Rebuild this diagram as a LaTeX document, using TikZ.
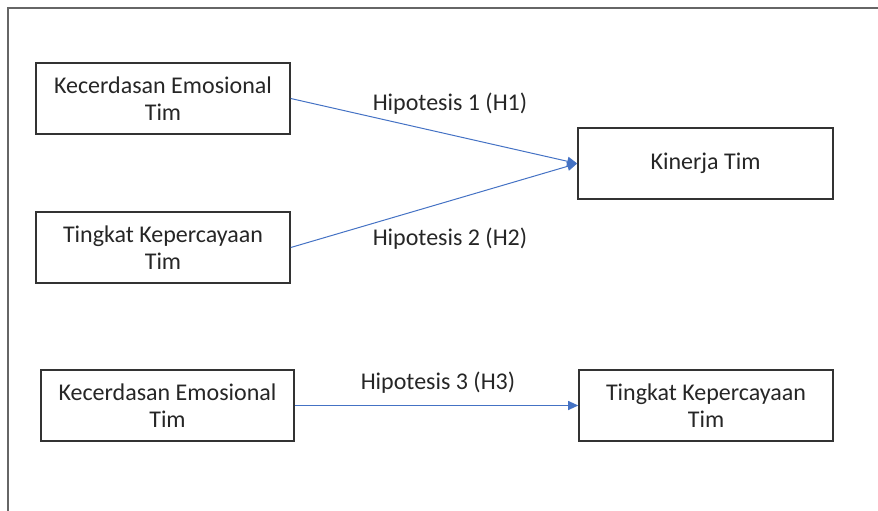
\documentclass[tikz,border=0pt]{standalone}
\usepackage{fontspec}
\setmainfont{Carlito}
\usetikzlibrary{arrows.meta}
\definecolor{arrowblue}{HTML}{4472C4}
\definecolor{txt}{HTML}{262626}
\definecolor{boxline}{HTML}{333333}
\begin{document}
\begin{tikzpicture}[x=1pt,y=-1pt,
  box/.style={draw=boxline,line width=1.6pt,minimum width=254pt,minimum height=71pt,
    inner sep=0pt,align=center,font=\fontsize{24}{27}\selectfont,text=txt},
  lbl/.style={font=\fontsize{24}{27}\selectfont,text=txt,inner sep=0pt},
  conn/.style={draw=arrowblue,line width=1pt,-{Triangle[length=10pt,width=9pt]}}]
\useasboundingbox (0,0) rectangle (878,511);
\draw[draw=gray!80!black,line width=1.5pt] (8,511) -- (8,8) -- (878,8);
\node[box] (ke1) at (163,98.5) {Kecerdasan Emosional\\Tim};
\node[box] (tk1) at (163,247.5) {Tingkat Kepercayaan\\Tim};
\node[box,minimum width=255pt] (kt) at (705.5,163.5) {Kinerja Tim};
\node[box,minimum width=253pt] (ke2) at (167.5,405.5) {Kecerdasan Emosional\\Tim};
\node[box] (tk2) at (706,405.5) {Tingkat Kepercayaan\\Tim};
\draw[conn] (ke1.east) -- (kt.west);
\draw[conn] (tk1.east) -- (kt.west);
\draw[conn] (ke2.east) -- (tk2.west);
\node[lbl] (h1) at (450,104) {Hipotesis 1 (H1)};
\node[lbl] (h2) at (450,239) {Hipotesis 2 (H2)};
\node[lbl] (h3) at (438,383) {Hipotesis 3 (H3)};
\end{tikzpicture}
\end{document}
